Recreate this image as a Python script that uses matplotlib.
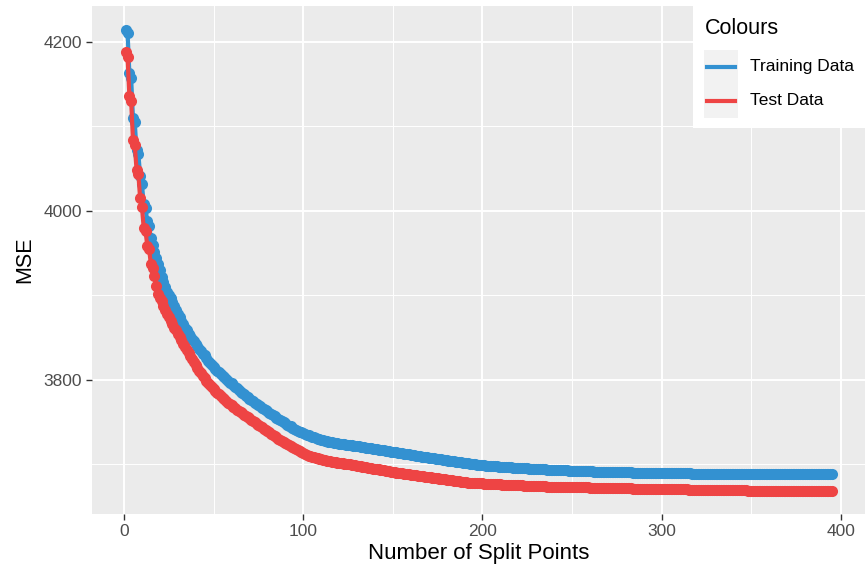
import numpy as np
import matplotlib
matplotlib.use('Agg')
import matplotlib.pyplot as plt
from matplotlib.lines import Line2D
from matplotlib.patches import Rectangle

# ── Data: MSE by number of split points ─────────────────────────────────────────
split_points = np.arange(1, 396)

train_mse = [
    4214, 4211, 4163, 4157, 4110, 4105, 4072, 4068, 4042, 4032,
    4008, 4003, 3988, 3982, 3968, 3960, 3952, 3944, 3937, 3930,
    3922, 3916, 3910, 3904, 3900, 3897, 3892, 3887, 3883, 3878,
    3874, 3870, 3866, 3862, 3859, 3855, 3852, 3849, 3846, 3843,
    3840, 3837, 3834, 3831, 3829, 3826, 3823, 3820, 3818, 3815,
    3813, 3811, 3809, 3807, 3805, 3803, 3801, 3799, 3797, 3796,
    3794, 3792, 3790, 3788, 3786, 3785, 3783, 3781, 3780, 3778,
    3776, 3775, 3773, 3772, 3770, 3769, 3767, 3766, 3764, 3763,
    3761, 3760, 3758, 3757, 3755, 3754, 3753, 3751, 3750, 3749,
    3747, 3746, 3745, 3743, 3742, 3741, 3740, 3739, 3738, 3737,
    3736.2, 3735.4, 3734.6, 3733.8, 3733, 3732.2, 3731.4, 3730.6, 3729.8, 3729,
    3728.5, 3728, 3727.5, 3727, 3726.6, 3726.2, 3725.8, 3725.4, 3725, 3724.6,
    3724.3, 3724, 3723.7, 3723.4, 3723.1, 3722.8, 3722.5, 3722.2, 3721.9, 3721.6,
    3721.3, 3721, 3720.6, 3720.3, 3720, 3719.6, 3719.3, 3719, 3718.6, 3718.3,
    3718, 3717.6, 3717.3, 3717, 3716.6, 3716.3, 3716, 3715.6, 3715.3, 3715,
    3714.7, 3714.3, 3714, 3713.6, 3713.3, 3712.9, 3712.6, 3712.2, 3711.9, 3711.5,
    3711.2, 3710.8, 3710.5, 3710.1, 3709.8, 3709.4, 3709.1, 3708.7, 3708.4, 3708,
    3707.7, 3707.4, 3707.1, 3706.8, 3706.5, 3706.2, 3705.9, 3705.6, 3705.3, 3705,
    3704.7, 3704.4, 3704.1, 3703.8, 3703.5, 3703.2, 3702.9, 3702.6, 3702.3, 3702,
    3701.7, 3701.4, 3701.1, 3700.8, 3700.5, 3700.2, 3699.9, 3699.6, 3699.3, 3699,
    3698.8, 3698.6, 3698.4, 3698.3, 3698.1, 3698, 3697.8, 3697.7, 3697.5, 3697.4,
    3697.2, 3697.1, 3696.9, 3696.8, 3696.6, 3696.5, 3696.4, 3696.2, 3696.1, 3696,
    3695.8, 3695.7, 3695.6, 3695.4, 3695.3, 3695.2, 3695, 3694.9, 3694.8, 3694.6,
    3694.5, 3694.4, 3694.3, 3694.2, 3694.1, 3694, 3693.9, 3693.8, 3693.7, 3693.6,
    3693.5, 3693.4, 3693.3, 3693.2, 3693.1, 3693, 3692.9, 3692.8, 3692.7, 3692.6,
    3692.5, 3692.4, 3692.3, 3692.2, 3692.1, 3692, 3691.9, 3691.8, 3691.8, 3691.7,
    3691.7, 3691.6, 3691.6, 3691.5, 3691.5, 3691.4, 3691.4, 3691.3, 3691.3, 3691.2,
    3691.2, 3691.1, 3691.1, 3691, 3691, 3690.9, 3690.9, 3690.8, 3690.8, 3690.7,
    3690.7, 3690.6, 3690.6, 3690.5, 3690.5, 3690.4, 3690.4, 3690.3, 3690.3, 3690.2,
    3690.2, 3690.1, 3690.1, 3690.0, 3690.0, 3690.0, 3689.9, 3689.9, 3689.9, 3689.8,
    3689.8, 3689.8, 3689.7, 3689.7, 3689.7, 3689.6, 3689.6, 3689.6, 3689.5, 3689.5,
    3689.5, 3689.5, 3689.4, 3689.4, 3689.4, 3689.4, 3689.3, 3689.3, 3689.3, 3689.3,
    3689.2, 3689.2, 3689.2, 3689.2, 3689.2, 3689.1, 3689.1, 3689.1, 3689.1, 3689.1,
    3689.0, 3689.0, 3689.0, 3689.0, 3689.0, 3689.0, 3689.0, 3689.0, 3689.0, 3689.0,
    3688.9, 3688.9, 3688.9, 3688.9, 3688.9, 3688.9, 3688.9, 3688.9, 3688.9, 3688.9,
    3688.8, 3688.8, 3688.8, 3688.8, 3688.8, 3688.8, 3688.8, 3688.8, 3688.8, 3688.8,
    3688.7, 3688.7, 3688.7, 3688.7, 3688.7, 3688.7, 3688.7, 3688.7, 3688.7, 3688.7,
    3688.6, 3688.6, 3688.6, 3688.6, 3688.6, 3688.6, 3688.6, 3688.6, 3688.6, 3688.6,
    3688.6, 3688.6, 3688.6, 3688.6, 3688.6, 3688.5, 3688.5, 3688.5, 3688.5, 3688.5,
    3688.5, 3688.5, 3688.5, 3688.5, 3688.5,
]

test_mse = [
    4188, 4182, 4136, 4130, 4084, 4078, 4049, 4044, 4015, 4005,
    3980, 3976, 3959, 3955, 3937, 3933, 3923, 3911, 3902, 3897,
    3893, 3888, 3883, 3878, 3874, 3870, 3866, 3862, 3859, 3855,
    3851, 3847, 3843, 3839.5, 3836, 3832, 3828.5, 3825, 3821, 3817.5,
    3814, 3811, 3808, 3805, 3802, 3799, 3796.5, 3794, 3791.5, 3789,
    3787, 3785, 3783, 3781, 3779, 3777, 3775, 3773, 3771.5, 3770,
    3768, 3766.5, 3765, 3763.5, 3762, 3760.5, 3759, 3757.5, 3756, 3754.5,
    3753, 3751.5, 3750, 3748.5, 3747, 3745.5, 3744, 3742.5, 3741, 3739.5,
    3738, 3736.5, 3735, 3733.5, 3732, 3730.5, 3729, 3727.8, 3726.6, 3725.3,
    3724, 3722.8, 3721.6, 3720.4, 3719.2, 3718, 3716.8, 3715.6, 3714.4, 3713.2,
    3712.2, 3711.4, 3710.6, 3709.9, 3709.2, 3708.5, 3707.8, 3707.2, 3706.6, 3706,
    3705.5, 3705, 3704.6, 3704.2, 3703.8, 3703.4, 3703, 3702.6, 3702.2, 3701.8,
    3701.5, 3701.2, 3700.9, 3700.6, 3700.3, 3700, 3699.6, 3699.2, 3698.9, 3698.5,
    3698.1, 3697.8, 3697.4, 3697, 3696.7, 3696.3, 3695.9, 3695.6, 3695.2, 3694.8,
    3694.5, 3694.1, 3693.7, 3693.4, 3693, 3692.6, 3692.3, 3691.9, 3691.5, 3691.2,
    3690.8, 3690.4, 3690.1, 3689.8, 3689.5, 3689.2, 3688.9, 3688.6, 3688.3, 3688,
    3687.7, 3687.4, 3687.1, 3686.8, 3686.5, 3686.2, 3685.9, 3685.6, 3685.3, 3685,
    3684.7, 3684.4, 3684.1, 3683.8, 3683.5, 3683.2, 3682.9, 3682.6, 3682.3, 3682,
    3681.7, 3681.4, 3681.1, 3680.8, 3680.5, 3680.2, 3679.9, 3679.6, 3679.3, 3679,
    3678.8, 3678.6, 3678.4, 3678.2, 3678, 3677.9, 3677.8, 3677.7, 3677.6, 3677.5,
    3677.3, 3677.2, 3677.1, 3677, 3676.9, 3676.8, 3676.7, 3676.6, 3676.5, 3676.4,
    3676.3, 3676.2, 3676.1, 3676, 3675.9, 3675.8, 3675.7, 3675.6, 3675.5, 3675.4,
    3675.3, 3675.2, 3675.1, 3675, 3674.9, 3674.8, 3674.7, 3674.6, 3674.5, 3674.4,
    3674.3, 3674.2, 3674.1, 3674, 3674, 3673.9, 3673.9, 3673.8, 3673.8, 3673.7,
    3673.7, 3673.6, 3673.6, 3673.5, 3673.5, 3673.4, 3673.4, 3673.3, 3673.3, 3673.2,
    3673.2, 3673.1, 3673.1, 3673, 3673, 3672.9, 3672.9, 3672.8, 3672.8, 3672.7,
    3672.7, 3672.6, 3672.6, 3672.5, 3672.5, 3672.4, 3672.4, 3672.3, 3672.3, 3672.2,
    3672.2, 3672.1, 3672.1, 3672, 3672, 3671.9, 3671.9, 3671.8, 3671.8, 3671.7,
    3671.7, 3671.6, 3671.6, 3671.5, 3671.5, 3671.4, 3671.4, 3671.3, 3671.3, 3671.2,
    3671.2, 3671.1, 3671.1, 3671, 3671, 3671, 3670.9, 3670.9, 3670.9, 3670.8,
    3670.8, 3670.8, 3670.7, 3670.7, 3670.7, 3670.6, 3670.6, 3670.6, 3670.5, 3670.5,
    3670.5, 3670.4, 3670.4, 3670.4, 3670.3, 3670.3, 3670.3, 3670.2, 3670.2, 3670.2,
    3670.1, 3670.1, 3670.1, 3670.0, 3670.0, 3670.0, 3669.9, 3669.9, 3669.9, 3669.8,
    3669.8, 3669.8, 3669.7, 3669.7, 3669.7, 3669.6, 3669.6, 3669.6, 3669.5, 3669.5,
    3669.5, 3669.4, 3669.4, 3669.4, 3669.3, 3669.3, 3669.3, 3669.2, 3669.2, 3669.2,
    3669.1, 3669.1, 3669.1, 3669.1, 3669.1, 3669.0, 3669.0, 3669.0, 3669.0, 3669.0,
    3668.9, 3668.9, 3668.9, 3668.9, 3668.9, 3668.8, 3668.8, 3668.8, 3668.8, 3668.8,
    3668.7, 3668.7, 3668.7, 3668.7, 3668.7, 3668.6, 3668.6, 3668.6, 3668.6, 3668.6,
    3668.5, 3668.5, 3668.5, 3668.5, 3668.5, 3668.4, 3668.4, 3668.4, 3668.4, 3668.4,
    3668.3, 3668.3, 3668.3, 3668.3, 3668.3,
]

series_labels = ['Training Data', 'Test Data']
series_colors = ['#3391D1', '#EE4444']

# ── Figure / panel styling ──────────────────────────────────────────────────────
FONT = 'Liberation Sans'
plt.rcParams['font.family'] = FONT

W, H = 865, 569
fig = plt.figure(figsize=(W / 100, H / 100), dpi=100)

left, right, top, bottom = 92, 865, 6, 514
ax = fig.add_axes([left / W, 1 - bottom / H, (right - left) / W, (bottom - top) / H])
ax.set_facecolor('#EBEBEB')
for s in ax.spines.values():
    s.set_visible(False)

ax.set_xlim(-17.85, 413.4)
ax.set_ylim(3641.4, 4242.6)

ax.set_xticks([0, 100, 200, 300, 400])
ax.set_xticks([50, 150, 250, 350], minor=True)
ax.set_yticks([3800, 4000, 4200])
ax.set_yticks([3700, 3900, 4100], minor=True)

ax.grid(True, which='major', color='white', linewidth=1.4)
ax.grid(True, which='minor', color='white', linewidth=0.7)
ax.set_axisbelow(True)

ax.tick_params(which='major', length=4, width=1, color='#333333',
               labelcolor='#4D4D4D', labelsize=12.5, pad=3)
ax.tick_params(which='minor', length=0)

ax.set_xlabel('Number of Split Points', fontsize=16, color='black', labelpad=3)
ax.set_ylabel('MSE', fontsize=15.5, color='black', labelpad=6)

# ── Curves: line + points for each series ──────────────────────────────────────
for vals, col in zip([train_mse, test_mse], series_colors):
    ax.plot(split_points, vals, color=col, linewidth=3, marker='o',
            markersize=8, markeredgewidth=0, solid_capstyle='round',
            zorder=3)

# ── Legend box (top right, inside panel) ───────────────────────────────────────
def fx(px):
    return px / W

def fy(py):
    return 1 - py / H

fig.patches.append(Rectangle((fx(693), fy(128)), fx(865) - fx(693), fy(0) - fy(128),
                             transform=fig.transFigure, facecolor='white',
                             edgecolor='none', zorder=5))
fig.text(fx(705), fy(29), 'Colours', fontsize=15.5, va='center', ha='left', zorder=6)

key_y = [67, 101]
for ky, lab, col in zip(key_y, series_labels, series_colors):
    fig.patches.append(Rectangle((fx(704), fy(ky + 17)), fx(738) - fx(704), fy(ky - 17) - fy(ky + 17),
                                 transform=fig.transFigure, facecolor='#F2F2F2',
                                 edgecolor='none', zorder=6))
    fig.lines.append(Line2D([fx(707), fx(735)], [fy(ky), fy(ky)], transform=fig.transFigure,
                            color=col, linewidth=3, zorder=7))
    fig.text(fx(750), fy(ky), lab, fontsize=12.5, va='center', ha='left', zorder=7)

fig.savefig('out.png', dpi=100)
